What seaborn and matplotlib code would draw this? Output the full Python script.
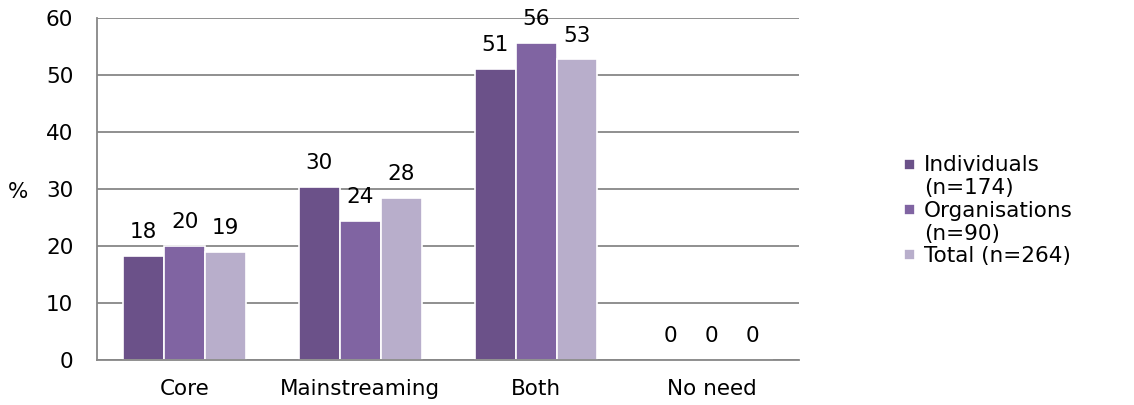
import numpy as np
import pandas as pd
import matplotlib
matplotlib.use("Agg")
import matplotlib.pyplot as plt
import matplotlib.patches as mpatches
from matplotlib.legend_handler import HandlerPatch
import seaborn as sns

# ----------------------------- data ------------------------------------
categories = ["Core", "Mainstreaming", "Both", "No need"]
series_names = ["Individuals\n(n=174)", "Organisations\n(n=90)", "Total (n=264)"]
individuals = [18.3, 30.3, 51.1, 0.0]
organisations = [20.0, 24.4, 55.6, 0.0]
total = [18.9, 28.4, 52.7, 0.0]

PALETTE = ["#6B5189", "#8064A2", "#B8AECB"]
FS = 15.5
GRID = "#878787"

# ----------------------------- frame -----------------------------------
df = pd.DataFrame({
    "category": categories * 3,
    "series": np.repeat(series_names, len(categories)),
    "value": individuals + organisations + total,
})

sns.set_theme(style="white")
plt.rcParams["font.family"] = ["DejaVu Sans"]

fig = plt.figure(figsize=(11.34, 4.05), dpi=100)
ax = fig.add_axes([0.0855, 0.111, 0.6195, 0.845])

sns.barplot(
    data=df, x="category", y="value", hue="series",
    order=categories, hue_order=series_names,
    palette=PALETTE, saturation=1, width=0.7,
    edgecolor="white", linewidth=1.2,
    errorbar=None, ax=ax,
)

for cont in ax.containers:
    ax.bar_label(cont, fmt="%.0f", padding=10, fontsize=FS, color="black")

ax.set_ylim(0, 60)
ax.set_yticks(np.arange(0, 61, 10))
ax.yaxis.grid(True, color=GRID, linewidth=1.3)
ax.set_axisbelow(True)
ax.tick_params(axis="y", length=0, labelsize=FS, pad=17, colors="black")
ax.tick_params(axis="x", length=0, labelsize=FS, pad=14, colors="black")
for side in ["top", "right"]:
    ax.spines[side].set_visible(False)
for side in ["left", "bottom"]:
    ax.spines[side].set_color(GRID)
    ax.spines[side].set_linewidth(1.3)
    ax.spines[side].set_zorder(5)

ax.set_xlabel("")
ax.set_ylabel("%", rotation=0, fontsize=FS, color="black", labelpad=14, va="center")
ax.yaxis.set_label_coords(-0.113, 0.49)


# square marker sits next to the first line of a wrapped label
def _square(shift):
    def make(legend, orig_handle, xdescent, ydescent, width, height, fontsize):
        s = min(width, height)
        return mpatches.Rectangle((-xdescent, -ydescent + (height - s) / 2 + shift), s, s)
    return HandlerPatch(patch_func=make)


handles, labels = ax.get_legend_handles_labels()
hmap = {h: _square(0.6 * FS if "\n" in lab else 0.0) for h, lab in zip(handles, labels)}
leg = ax.legend(
    handles, labels, loc="center left", bbox_to_anchor=(0.797, 0.48),
    bbox_transform=fig.transFigure, frameon=False, fontsize=FS,
    handlelength=0.5, handleheight=0.5, handletextpad=0.45, labelspacing=0.1,
    borderaxespad=0, borderpad=0, handler_map=hmap,
)
for t in leg.get_texts():
    t.set_color("black")

fig.savefig("out.png", dpi=100)
